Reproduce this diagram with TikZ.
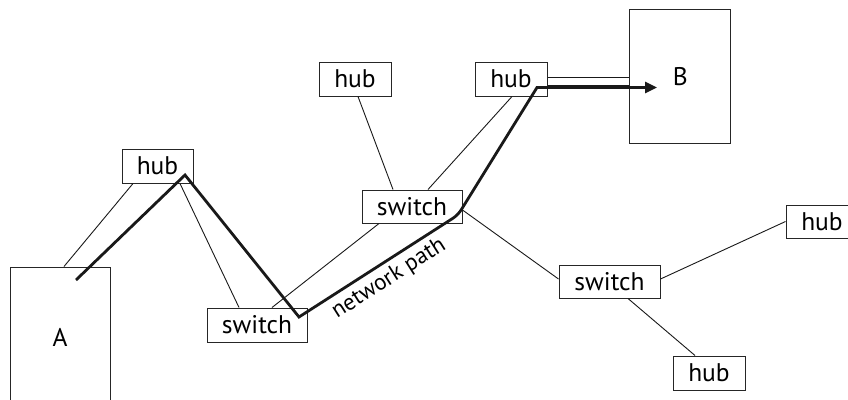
\documentclass[tikz,border=0pt]{standalone}
\usepackage{fontspec}
\setmainfont{PT Sans}
\usetikzlibrary{arrows.meta}
\begin{document}
\begin{tikzpicture}[x=1pt,y=-1pt,
  box/.style={draw=black!85, line width=1pt, inner sep=0pt,
    font=\fontsize{25.5}{30}\selectfont},
  hubbox/.style={box, minimum width=72pt, minimum height=34pt},
  switchbox/.style={box, minimum width=100pt, minimum height=34pt},
  host/.style={box, minimum width=100pt},
  link/.style={line width=0.9pt, black!90},
  route/.style={line width=2.8pt, line join=miter, black!90},
  routelabel/.style={font=\fontsize{23}{27}\selectfont, inner sep=0pt}]
\useasboundingbox (0,0) rectangle (848,399);
\clip (0,0) rectangle (848,399);

% end hosts
\node[host, minimum height=140pt] (A) at (60,337) {A};
\node[host, minimum width=100.7pt, minimum height=134pt] (B) at (680.3,76.3) {B};

% hubs and switches
\node[hubbox, minimum width=71pt] (hub1) at (157.5,166) {hub};
\node[switchbox] (sw1) at (257,325) {switch};
\node[hubbox] (hub2) at (355,79) {hub};
\node[hubbox] (hub3) at (511,79) {hub};
\node[switchbox, minimum height=33pt] (sw2) at (412,206.5) {switch};
\node[switchbox, minimum width=101pt, minimum height=33pt] (sw3) at (609.5,281.5) {switch};
\node[hubbox, minimum height=33pt] (hubR) at (822,221.5) {hub};
\node[hubbox] (hubB) at (709,373) {hub};

% cabling
\draw[link] ([shift={(4,0)}]A.north) -- ([shift={(-24.5,0)}]hub1.south);
\draw[link] ([shift={(22.5,0)}]hub1.south) -- ([shift={(-18,0)}]sw1.north);
\draw[link] ([shift={(15,0)}]sw1.north) -- ([shift={(-33,0)}]sw2.south);
\draw[link] ([shift={(3,0)}]hub2.south) -- ([shift={(-19,0)}]sw2.north);
\draw[link] ([shift={(1,0)}]hub3.south) -- ([shift={(16,0)}]sw2.north);
\draw[link] ([shift={(0,-2)}]hub3.east) -- ([shift={(0,-2)}]hub3.east -| B.west);
\draw[link] ([shift={(0,6.5)}]hub3.east) -- ([shift={(0,6.5)}]hub3.east -| B.west);
\draw[link] ([shift={(0,3.5)}]sw2.east) -- ([shift={(0,-2.5)}]sw3.west);
\draw[link] ([shift={(0,-2.5)}]sw3.east) -- (hubR.west);
\draw[link] ([shift={(18.5,0)}]sw3.south) -- ([shift={(-14,0)}]hubB.north);

% route taken from A to B
\coordinate (p0) at ([shift={(16,-57)}]A.center);
\coordinate (p1) at ([shift={(27.5,9)}]hub1.center);
\coordinate (p2) at ([shift={(42,-8)}]sw1.center);
\coordinate (p3) at ([shift={(46,8.5)}]sw2.center);
\coordinate (p4) at ([shift={(26,8.5)}]hub3.center);
\coordinate (p5) at ([shift={(-23.3,11.2)}]B.center);
\draw[route, -{Triangle[length=12pt,width=11pt]}]
  (p0) -- (p1) -- (p2) [rounded corners=6pt] -- (p3) [sharp corners] -- (p4) -- (p5);

\node[routelabel, rotate=32.5] (lbl) at (389,279) {network path};
\end{tikzpicture}
\end{document}
